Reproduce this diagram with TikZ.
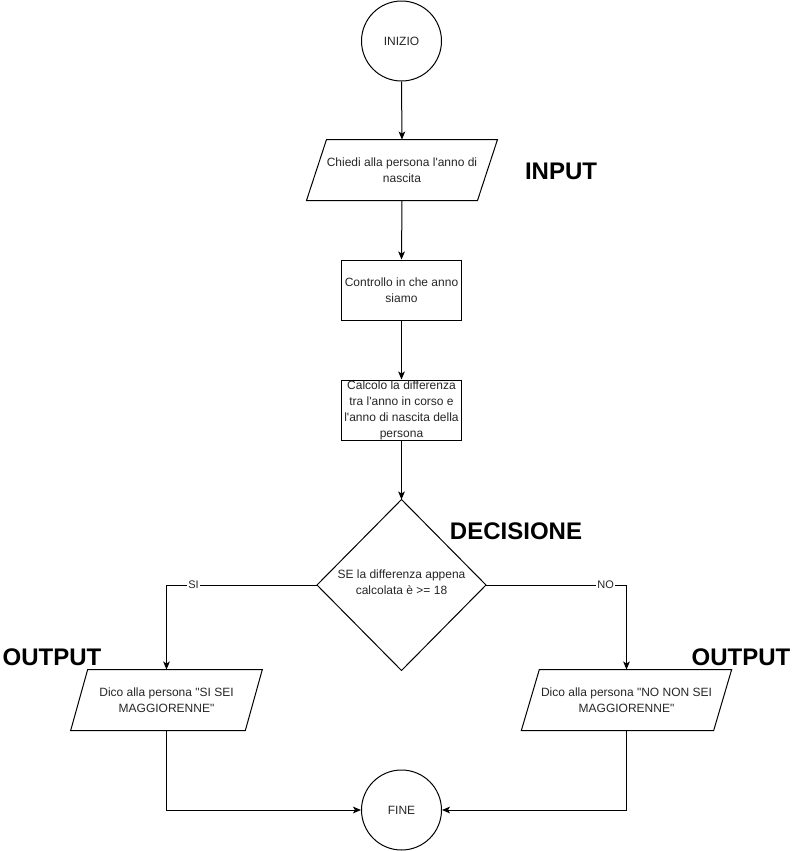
\documentclass[tikz,border=0pt]{standalone}
\usepackage{fontspec}
\setmainfont{Liberation Sans}[Ligatures=TeXOff]
\usetikzlibrary{arrows.meta}
\begin{document}
\begin{tikzpicture}[x=0.75pt,y=-0.75pt,line width=0.75pt,
  every node/.style={font=\fontsize{9}{12}\selectfont, align=center, text=black!85},
  term/.style={circle, draw, minimum size=60pt, inner sep=0pt},
  proc/.style={rectangle, draw, minimum width=90pt, minimum height=45pt, inner sep=0pt},
  iobox/.style={rectangle, minimum height=45pt, inner sep=0pt},
  hidden/.style={rectangle, inner sep=0pt},
  title/.style={font=\fontsize{18}{20}\selectfont\bfseries, text=black},
  arr/.style={-{Stealth[length=6pt,width=5pt,inset=1.5pt]}},
  lbl/.style={fill=white, inner sep=1pt, font=\fontsize{8.25}{10}\selectfont}]
\useasboundingbox (0,0) rectangle (794,851);

% nodes
\node[term] (start) at (401.5,41) {INIZIO};
\node[iobox, minimum width=142.5pt] (p1) at (402,170) {Chiedi alla persona l'anno di\\nascita};
\draw ([xshift=15pt]p1.north west) -- (p1.north east) -- ([xshift=-15pt]p1.south east) -- (p1.south west) -- cycle;
\node[proc] (r1) at (401.5,290) {Controllo in che anno\\siamo};
\node[proc] (r2) at (401.5,410) {Calcolo la differenza\\tra l'anno in corso e\\l'anno di nascita della\\persona};
\node[hidden, minimum width=126pt, minimum height=127.5pt] (d) at (401.5,585) {};
\draw (d.north) -- (d.east) -- (d.south) -- (d.west) -- cycle;
\node (dt) at (401.5,582) {SE la differenza appena\\calcolata è >= 18};
\node[iobox, minimum width=143pt] (p2) at (166.5,700) {Dico alla persona "SI SEI\\MAGGIORENNE"};
\draw ([xshift=12.75pt]p2.north west) -- (p2.north east) -- ([xshift=-12.75pt]p2.south east) -- (p2.south west) -- cycle;
\node[iobox, minimum width=157pt] (p3) at (626.5,700) {Dico alla persona "NO NON SEI\\MAGGIORENNE"};
\draw ([xshift=13.5pt]p3.north west) -- (p3.north east) -- ([xshift=-13.5pt]p3.south east) -- (p3.south west) -- cycle;
\node[term] (fine) at (401.5,810) {FINE};

% titles
\node[title] (tin) at (561,171) {INPUT};
\node[title] (tdec) at (516,531) {DECISIONE};
\node[title] (tout1) at (52,657) {OUTPUT};
\node[title] (tout2) at (741,657) {OUTPUT};

% connectors
\draw[arr] (start.south) -- (p1.north);
\draw[arr] (p1.south) -- (r1.north);
\draw[arr] (r1.south) -- (r2.north);
\draw[arr] (r2.south) -- (d.north);
\draw[arr] (d.west) -| node[lbl, pos=0.41] (lsi) {SI} (p2.north);
\draw[arr] (d.east) -| node[lbl, pos=0.426] (lno) {NO} (p3.north);
\draw[arr] (p2.south) |- (fine.west);
\draw[arr] (p3.south) |- (fine.east);
\end{tikzpicture}
\end{document}
